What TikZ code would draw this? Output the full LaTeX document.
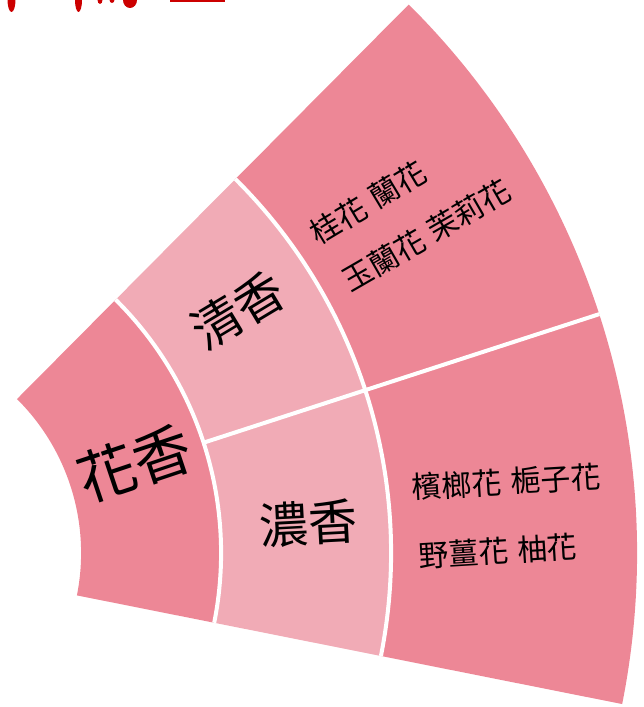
\documentclass[tikz,border=0pt]{standalone}
\usepackage{fontspec}
\newfontfamily\cjk{Noto Sans CJK TC}
\definecolor{segdark}{RGB}{237,135,150}
\definecolor{seglight}{RGB}{241,171,182}
\definecolor{titlered}{RGB}{204,0,0}
\newcommand{\gapsp}{\hspace{0.3em}}
\tikzset{
  sep/.style={draw=white, line width=4pt},
  midlbl/.style={inner sep=0pt, text=black, font=\cjk\fontsize{49}{52}\selectfont},
  rootlbl/.style={inner sep=0pt, text=black, font=\cjk\fontsize{58}{62}\selectfont},
  leaf/.style={inner sep=0pt, anchor=west, text=black, font=\cjk\fontsize{30}{33}\selectfont}
}
\begin{document}
\begin{tikzpicture}[x=1pt,y=1pt]
\useasboundingbox (0,0) rectangle (643,707);
\coordinate (C) at (-135.9,154);
\def\ra{217}\def\rb{357}\def\rc{527}\def\rd{773}
\def\aa{-11.27}\def\ab{18}\def\ac{45.2}
\begin{scope}[shift={(C)}]
  % root ring
  \fill[segdark] (\aa:\ra pt) arc[start angle=\aa, end angle=\ac, radius=\ra pt]
     -- (\ac:\rb pt) arc[start angle=\ac, end angle=\aa, radius=\rb pt] -- cycle;
  % middle ring
  \fill[seglight] (\ab:\rb pt) arc[start angle=\ab, end angle=\ac, radius=\rb pt]
     -- (\ac:\rc pt) arc[start angle=\ac, end angle=\ab, radius=\rc pt] -- cycle;
  \fill[seglight] (\aa:\rb pt) arc[start angle=\aa, end angle=\ab, radius=\rb pt]
     -- (\ab:\rc pt) arc[start angle=\ab, end angle=\aa, radius=\rc pt] -- cycle;
  % outer ring
  \fill[segdark] (\aa:\rc pt) arc[start angle=\aa, end angle=\ac, radius=\rc pt]
     -- (\ac:\rd pt) arc[start angle=\ac, end angle=\aa, radius=\rd pt] -- cycle;
  % separators
  \draw[sep] (\aa:\rb pt) arc[start angle=\aa, end angle=\ac, radius=\rb pt];
  \draw[sep] (\aa:\rc pt) arc[start angle=\aa, end angle=\ac, radius=\rc pt];
  \draw[sep] (\ab:\rb pt) -- (\ab:\rd pt);
\end{scope}
% labels
\node[rootlbl, rotate=18.5] (huaxiang) at (135,243.7) {花香};
\node[midlbl, rotate=31] (qingxiang) at (238,396.2) {清香};
\node[midlbl, rotate=3] (nongxiang) at (308.7,183.7) {濃香};
\node[leaf, rotate=31] (leafa) at (312.7,471.2) {桂花\gapsp 蘭花};
\node[leaf, rotate=30] (leafb) at (344.3,424.5) {玉蘭花\gapsp 茉莉花};
\node[leaf, rotate=3.5] (leafc) at (411.7,219.4) {檳榔花\gapsp 梔子花};
\node[leaf, rotate=3.5] (leafd) at (418.3,151) {野薑花\gapsp 柚花};
% cut-off red title fragments at the top edge
\begin{scope}
  \clip (0,0) rectangle (643,707);
  \fill[titlered] (11.5,707) ellipse[x radius=4pt, y radius=12pt];
  \fill[titlered] (78.5,707) ellipse[x radius=3.5pt, y radius=12pt];
  \fill[titlered] (100,707) ellipse[x radius=2.5pt, y radius=4pt];
  \fill[titlered] (112,707) ellipse[x radius=2.5pt, y radius=3pt];
  \fill[titlered] (130,707) ellipse[x radius=7pt, y radius=8pt];
  \fill[titlered] (170,704.5) rectangle (225,707);
\end{scope}
\end{tikzpicture}
\end{document}
